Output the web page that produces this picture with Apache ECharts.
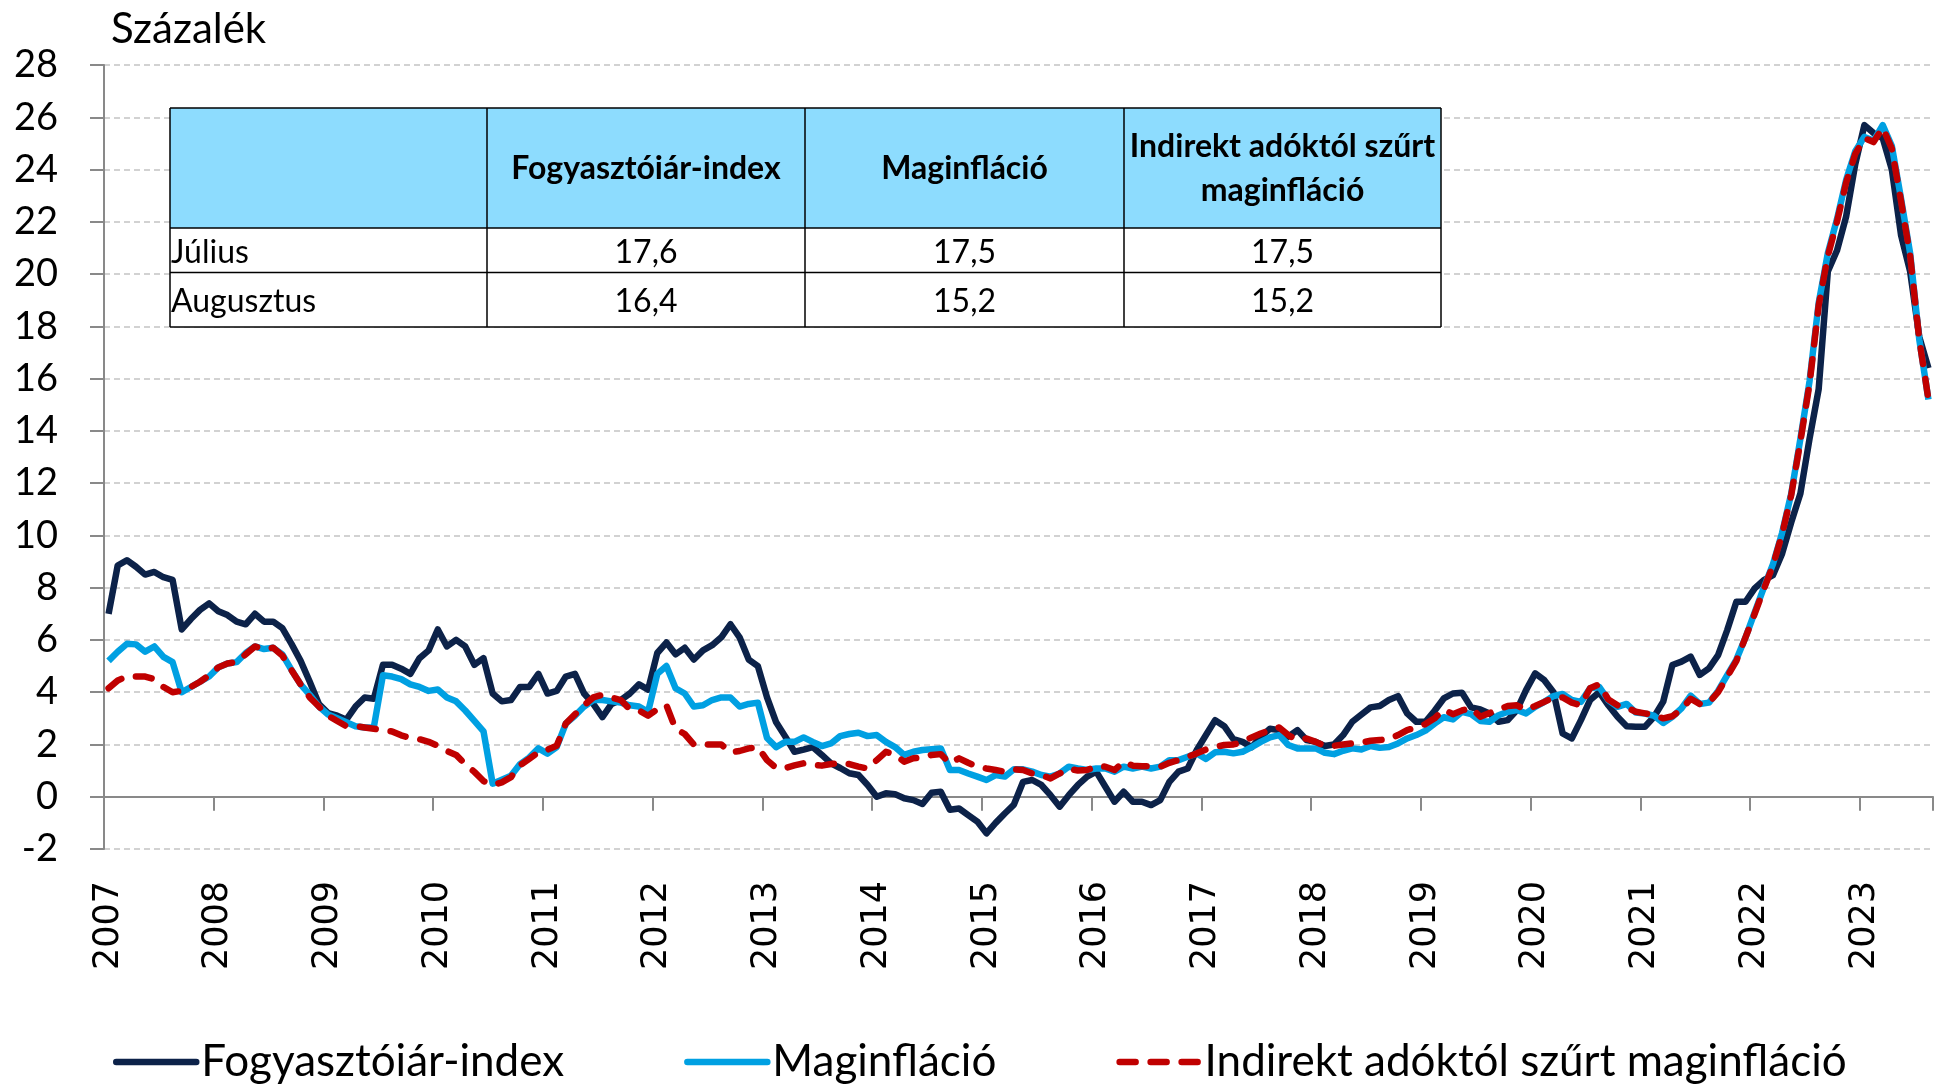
<!DOCTYPE html>
<html>
<head>
<meta charset="utf-8">
<title>Infláció</title>
<script src="https://cdn.jsdelivr.net/npm/echarts@6/dist/echarts.min.js"></script>
<style>
  html, body { margin: 0; padding: 0; background: #fff; }
  #chart { width: 1943px; height: 1085px; }
</style>
</head>
<body>
<div id="chart"></div>
<script>
var myChart = echarts.init(document.getElementById('chart'));

// honapok 2007 januartol 2023 augusztusig
var years = [2007, 2008, 2009, 2010, 2011, 2012, 2013, 2014, 2015, 2016, 2017, 2018, 2019, 2020, 2021, 2022, 2023];
var lastMonth = 8;
var months = [];
years.forEach(function (y) {
    for (var m = 1; m <= 12; m++) {
        if (y === 2023 && m > lastMonth) break;
        months.push(y + '-' + (m < 10 ? '0' + m : m));
    }
});

// Fogyasztóiár-index
var cpi = [
    7.0, 8.85, 9.05, 8.8, 8.5, 8.6, 8.4, 8.3, 6.4, 6.8, 7.15, 7.4,
    7.1, 6.95, 6.7, 6.6, 7.0, 6.7, 6.7, 6.45, 5.85, 5.2, 4.4, 3.55,
    3.2, 3.1, 2.95, 3.45, 3.8, 3.75, 5.05, 5.05, 4.9, 4.7, 5.3, 5.6,
    6.4, 5.75, 6.0, 5.75, 5.05, 5.3, 3.95, 3.65, 3.7, 4.2, 4.2, 4.7,
    3.95, 4.05, 4.6, 4.7, 3.95, 3.55, 3.05, 3.55, 3.7, 3.95, 4.3, 4.1,
    5.5, 5.9, 5.45, 5.7, 5.25, 5.6, 5.8, 6.1, 6.6, 6.1, 5.25, 5.0,
    3.8, 2.85, 2.3, 1.72, 1.8, 1.9, 1.6, 1.28, 1.1, 0.9, 0.83, 0.45,
    0.0, 0.13, 0.1, -0.06, -0.13, -0.28, 0.15, 0.19, -0.5, -0.45, -0.7, -0.95,
    -1.4, -1.0, -0.64, -0.3, 0.57, 0.64, 0.45, 0.06, -0.38, 0.06, 0.45, 0.77,
    0.96, 0.38, -0.19, 0.19, -0.19, -0.19, -0.32, -0.13, 0.57, 0.96, 1.08, 1.79,
    2.36, 2.93, 2.7, 2.2, 2.1, 1.9, 2.3, 2.6, 2.55, 2.3, 2.55, 2.17,
    2.1, 1.94, 2.0, 2.36, 2.87, 3.15, 3.42, 3.47, 3.7, 3.85, 3.19, 2.87,
    2.87, 3.29, 3.76, 3.95, 3.98, 3.42, 3.34, 3.19, 2.87, 2.93, 3.32, 4.08,
    4.72, 4.46, 4.0, 2.42, 2.23, 2.93, 3.7, 4.0, 3.5, 3.06, 2.7, 2.68,
    2.68, 3.06, 3.64, 5.04, 5.17, 5.36, 4.66, 4.91, 5.42, 6.38, 7.46, 7.46,
    7.97, 8.29, 8.48, 9.3, 10.5, 11.6, 13.7, 15.6, 20.1, 20.9, 22.2, 24.2,
    25.7, 25.4, 25.2, 24.0, 21.5, 20.1, 17.6, 16.4
];

// Maginfláció
var core = [
    5.2, 5.55, 5.85, 5.83, 5.55, 5.75, 5.35, 5.15, 4.0, 4.2, 4.4, 4.6,
    4.95, 5.1, 5.15, 5.5, 5.75, 5.65, 5.7, 5.45, 4.85, 4.3, 3.9, 3.45,
    3.15, 3.0, 2.85, 2.7, 2.65, 2.65, 4.65, 4.6, 4.5, 4.3, 4.2, 4.05,
    4.1, 3.8, 3.65, 3.3, 2.9, 2.5, 0.5, 0.65, 0.8, 1.25, 1.5, 1.85,
    1.65, 1.9, 2.8, 3.1, 3.45, 3.7, 3.7, 3.65, 3.6, 3.5, 3.45, 3.25,
    4.7, 5.0, 4.15, 3.95, 3.45, 3.5, 3.7, 3.8, 3.8, 3.45, 3.55, 3.6,
    2.25, 1.9, 2.1, 2.1, 2.27, 2.1, 1.94, 2.04, 2.32, 2.4, 2.45, 2.32,
    2.36, 2.1, 1.9, 1.6, 1.72, 1.79, 1.82, 1.85, 1.02, 1.02, 0.89, 0.77,
    0.64, 0.83, 0.77, 1.05, 1.05, 0.96, 0.83, 0.77, 0.89, 1.15, 1.08, 1.02,
    1.08, 1.08, 0.96, 1.15, 1.08, 1.15, 1.08, 1.15, 1.4, 1.4, 1.53, 1.66,
    1.45, 1.7, 1.72, 1.66, 1.72, 1.9, 2.1, 2.27, 2.36, 1.98, 1.85, 1.85,
    1.85, 1.68, 1.63, 1.76, 1.85, 1.81, 1.94, 1.87, 1.9, 2.04, 2.23, 2.36,
    2.53, 2.8, 3.04, 2.96, 3.25, 3.16, 2.9, 2.87, 3.12, 3.25, 3.32, 3.19,
    3.44, 3.63, 3.85, 3.93, 3.7, 3.63, 4.15, 4.2, 3.7, 3.44, 3.55, 3.22,
    3.18, 3.1, 2.82, 3.06, 3.38, 3.87, 3.55, 3.6, 4.05, 4.65, 5.25, 6.1,
    7.05, 8.0, 8.9, 10.1, 11.6, 13.7, 15.9, 18.9, 20.8, 22.1, 23.6, 24.7,
    25.25, 25.1, 25.7, 24.9, 22.9, 20.8, 17.5, 15.2
];

// Indirekt adóktól szűrt maginfláció
var coreTax = [
    4.15, 4.45, 4.6, 4.6, 4.6, 4.5, 4.2, 4.0, 4.05, 4.2, 4.4, 4.65,
    4.95, 5.1, 5.15, 5.45, 5.75, 5.65, 5.7, 5.4, 4.85, 4.3, 3.8, 3.45,
    3.1, 2.9, 2.7, 2.7, 2.65, 2.6, 2.55, 2.5, 2.35, 2.25, 2.2, 2.1,
    1.95, 1.75, 1.6, 1.25, 0.95, 0.6, 0.45, 0.55, 0.75, 1.2, 1.45, 1.7,
    1.8, 1.95, 2.8, 3.15, 3.5, 3.8, 3.9, 3.8, 3.7, 3.35, 3.3, 3.1,
    3.35, 3.5, 2.6, 2.4, 2.0, 2.0, 2.0, 2.0, 1.7, 1.75, 1.85, 1.9,
    1.4, 1.1, 1.1, 1.2, 1.28, 1.22, 1.19, 1.25, 1.3, 1.25, 1.15, 1.08,
    1.4, 1.72, 1.6, 1.34, 1.47, 1.5, 1.6, 1.63, 1.28, 1.47, 1.3, 1.15,
    1.08, 1.02, 0.96, 1.05, 1.02, 0.89, 0.83, 0.7, 0.89, 1.08, 1.0, 1.02,
    1.17, 1.15, 1.02, 1.34, 1.19, 1.17, 1.17, 1.15, 1.3, 1.4, 1.53, 1.66,
    1.81, 1.9, 1.98, 2.0, 2.1, 2.27, 2.42, 2.55, 2.65, 2.36, 2.17, 2.23,
    2.1, 1.94, 1.95, 2.0, 2.04, 2.07, 2.14, 2.17, 2.2, 2.36, 2.55, 2.65,
    2.78, 3.0, 3.34, 3.16, 3.3, 3.4, 3.06, 3.2, 3.34, 3.47, 3.5, 3.32,
    3.47, 3.63, 3.8, 3.8, 3.6, 3.5, 4.15, 4.3, 3.72, 3.5, 3.42, 3.25,
    3.19, 3.12, 3.0, 3.08, 3.35, 3.75, 3.55, 3.6, 4.0, 4.6, 5.2, 6.1,
    7.0, 7.95, 8.85, 10.05, 11.55, 13.6, 15.8, 18.8, 20.7, 22.0, 23.5, 24.6,
    25.2, 25.05, 25.6, 24.8, 22.8, 20.7, 17.5, 15.2
];

// tablazat a grafikon belsejeben
var tableHeader = ['', 'Fogyasztóiár-index', 'Maginfláció', 'Indirekt adóktól szűrt\nmaginfláció'];
var tableRows = ['Július', 'Augusztus'];
var tableValues = [
    ['17,6', '17,5', '17,5'],
    ['16,4', '15,2', '15,2']
];

var colX = [170, 487, 805, 1124, 1441];
var rowY = [108, 228, 272.6, 327];
var gridColor = '#c3c3c3';
var axisColor = '#898989';
var lineW = 6.5;

var graphics = [];
graphics.push({ type: 'rect', shape: { x: colX[0], y: rowY[0], width: colX[4] - colX[0], height: rowY[1] - rowY[0] }, style: { fill: '#8ddcfe' }, z: 10 });
graphics.push({ type: 'rect', shape: { x: colX[0], y: rowY[1], width: colX[4] - colX[0], height: rowY[3] - rowY[1] }, style: { fill: '#fff' }, z: 10 });
rowY.forEach(function (y) {
    graphics.push({ type: 'line', shape: { x1: colX[0], y1: y, x2: colX[4], y2: y }, style: { stroke: '#000', lineWidth: 1.5 }, z: 11 });
});
colX.forEach(function (x) {
    graphics.push({ type: 'line', shape: { x1: x, y1: rowY[0], x2: x, y2: rowY[3] }, style: { stroke: '#000', lineWidth: 1.5 }, z: 11 });
});
tableHeader.forEach(function (h, c) {
    if (!h) return;
    graphics.push({
        type: 'text', z: 12,
        x: (colX[c] + colX[c + 1]) / 2, y: (rowY[0] + rowY[1]) / 2 + 1,
        style: { text: h, fontFamily: 'Lato', fontSize: 32, fontWeight: 'bold', fill: '#000', align: 'center', verticalAlign: 'middle', lineHeight: 44 }
    });
});
tableRows.forEach(function (name, r) {
    var cy = (rowY[r + 1] + rowY[r + 2]) / 2 + 2;
    graphics.push({
        type: 'text', z: 12, x: colX[0] + 1, y: cy,
        style: { text: name, fontFamily: 'Lato', fontSize: 32, fill: '#000', align: 'left', verticalAlign: 'middle' }
    });
    tableValues[r].forEach(function (v, c) {
        graphics.push({
            type: 'text', z: 12, x: (colX[c + 1] + colX[c + 2]) / 2, y: cy,
            style: { text: v, fontFamily: 'Lato', fontSize: 32, fill: '#000', align: 'center', verticalAlign: 'middle' }
        });
    });
});

var option = {
    animation: false,
    backgroundColor: '#fff',
    title: {
        text: 'Százalék',
        left: 106,
        top: 3,
        textStyle: { fontFamily: 'Lato', fontSize: 42, fontWeight: 'normal', color: '#000' }
    },
    grid: { left: 104, right: 10, top: 65, bottom: 236 },
    legend: {
        left: 108,
        top: 1035,
        itemWidth: 80,
        itemHeight: 14,
        itemGap: 120,
        itemStyle: { opacity: 0 },
        lineStyle: { width: lineW, cap: 'round' },
        textStyle: { fontFamily: 'Lato', fontSize: 44, color: '#000' },
        data: ['Fogyasztóiár-index', 'Maginfláció', 'Indirekt adóktól szűrt maginfláció']
    },
    xAxis: [{
        // csak a feliratok, a -2 alatt
        type: 'category',
        data: months,
        boundaryGap: true,
        position: 'bottom',
        axisLine: { show: false, onZero: false },
        axisTick: { show: false },
        splitLine: { show: false },
        axisLabel: {
            interval: 11,
            rotate: 90,
            margin: 32,
            fontFamily: 'DejaVu Sans',
            fontSize: 35,
            color: '#000',
            formatter: function (v) { return v.slice(0, 4); }
        }
    }, {
        // tengelyvonal a nullanal
        type: 'category',
        data: months,
        boundaryGap: true,
        position: 'bottom',
        axisLine: { show: true, onZero: true, lineStyle: { color: axisColor, width: 2 } },
        axisTick: { show: true, interval: 11, length: 14, lineStyle: { color: axisColor, width: 2 } },
        axisLabel: { show: false },
        splitLine: { show: false }
    }],
    yAxis: {
        type: 'value',
        min: -2,
        max: 28,
        interval: 2,
        axisLine: { show: true, lineStyle: { color: axisColor, width: 2 } },
        axisTick: { show: true, length: 14, lineStyle: { color: axisColor, width: 2 } },
        axisLabel: { margin: 46, fontFamily: 'Lato', fontSize: 38, color: '#000' },
        splitLine: { show: true, lineStyle: { type: [6, 4], color: gridColor, width: 1.5 } }
    },
    series: [{
        name: 'Fogyasztóiár-index',
        type: 'line',
        data: cpi,
        symbol: 'none',
        itemStyle: { color: '#0c2249' },
        lineStyle: { color: '#0c2249', width: lineW, join: 'round' },
        z: 3
    }, {
        name: 'Maginfláció',
        type: 'line',
        data: core,
        symbol: 'none',
        itemStyle: { color: '#00a0e2' },
        lineStyle: { color: '#00a0e2', width: lineW, join: 'round' },
        z: 4
    }, {
        name: 'Indirekt adóktól szűrt maginfláció',
        type: 'line',
        data: coreTax,
        symbol: 'none',
        itemStyle: { color: '#c00000' },
        lineStyle: { color: '#c00000', width: lineW, type: [16, 15], cap: 'round', join: 'round' },
        z: 5
    }],
    graphic: graphics
};

myChart.setOption(option);
</script>
</body>
</html>
